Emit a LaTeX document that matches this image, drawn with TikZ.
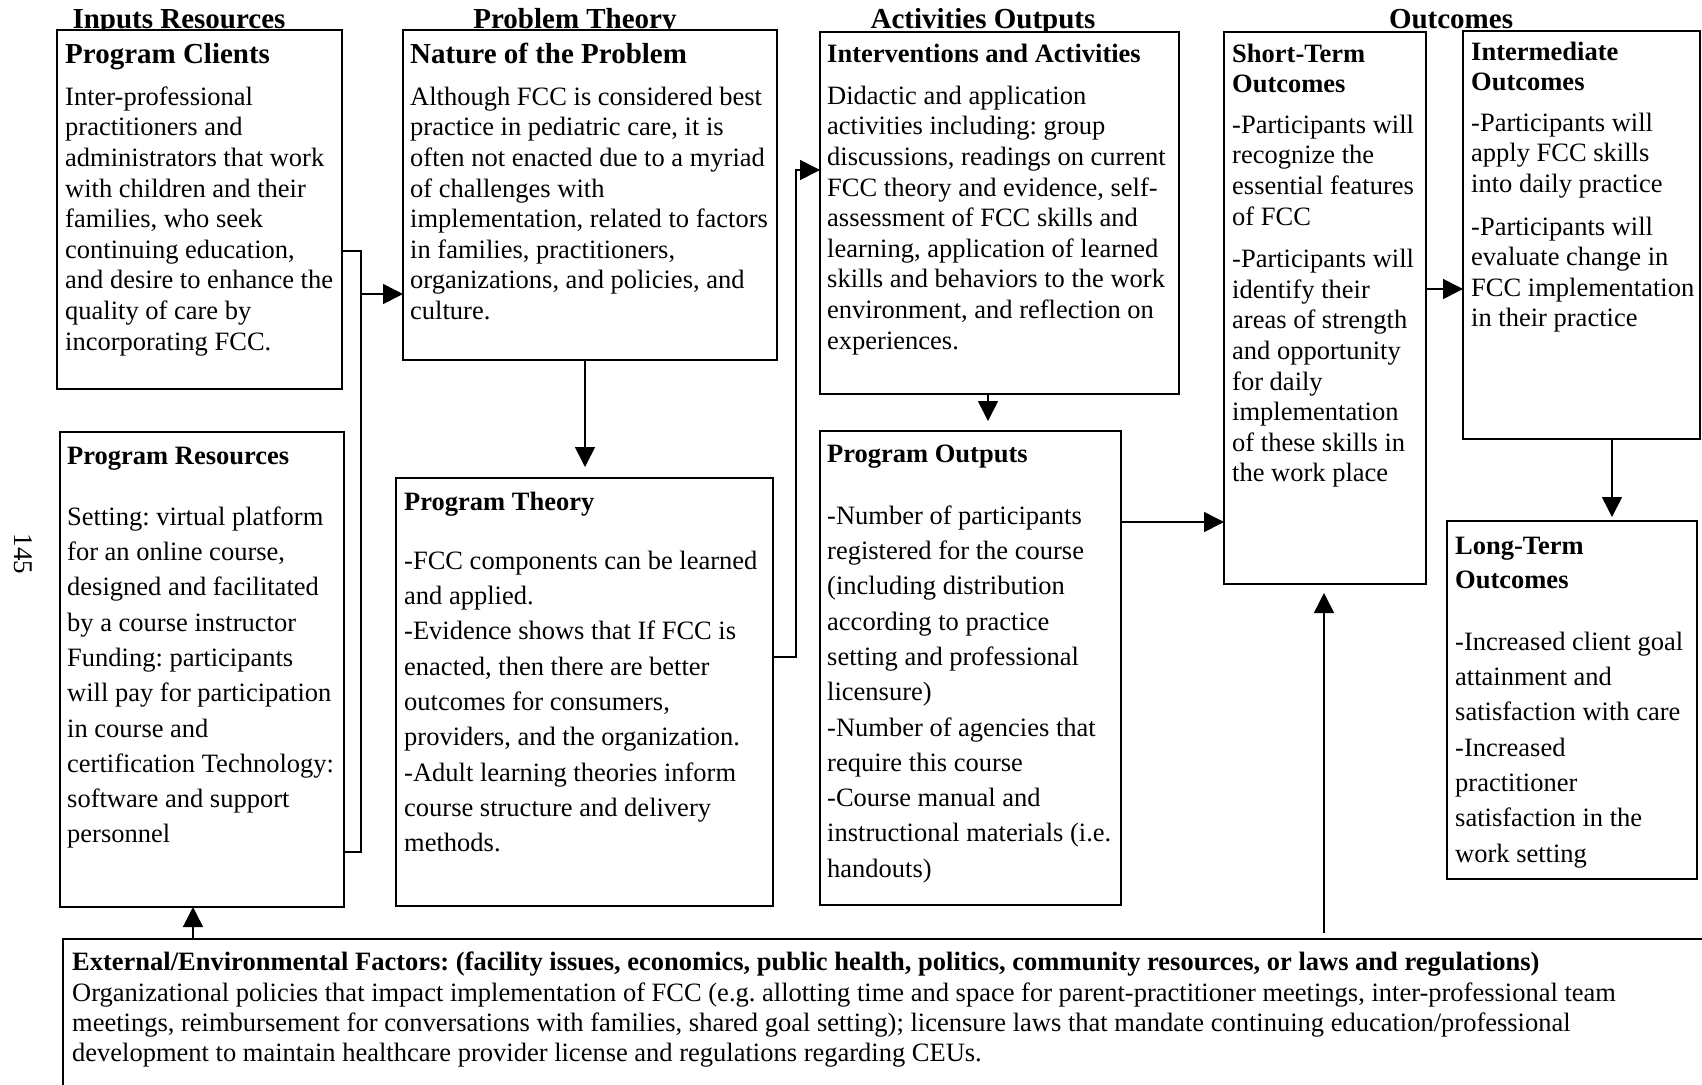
\documentclass[tikz,border=0pt]{standalone}
\usepackage{fontspec}
\setmainfont{Liberation Serif}
\usetikzlibrary{arrows.meta,calc}
\frenchspacing

\begin{document}
\begin{tikzpicture}[x=1pt,y=-1pt,
  box/.style={draw=black, line width=1.8pt, fill=white, anchor=north west, inner sep=0pt, outer sep=0pt},
  colhead/.style={font={\fontsize{29}{34}\selectfont\bfseries}, anchor=base, inner sep=0pt},
  bighead/.style={font={\fontsize{29}{34}\selectfont\bfseries}, anchor=base west, inner sep=0pt},
  headline/.style={font={\fontsize{26.5}{30.6}\selectfont\bfseries}, anchor=base west, inner sep=0pt},
  headblock/.style={font={\fontsize{26.5}{30.6}\selectfont\bfseries}, anchor=north west, inner sep=0pt, align=left},
  tightbody/.style={font={\fontsize{26.5}{30.6}\selectfont}, anchor=north west, inner sep=0pt, align=left},
  loosebody/.style={font={\fontsize{26.5}{35.3}\selectfont}, anchor=north west, inner sep=0pt, align=left},
  extbody/.style={font={\fontsize{26.5}{30.2}\selectfont}, anchor=north west, inner sep=0pt, align=left},
  link/.style={line width=1.6pt},
  arr/.style={line width=1.6pt, -{Triangle[length=20pt,width=20pt]}},
]
\useasboundingbox (0,0) rectangle (1702,1084);
\fill[white] (0,0) rectangle (1702,1084);

% column headings
\node[colhead] (hInputs) at (179,28) {Inputs Resources};
\node[colhead] (hProblem) at (575,28) {Problem Theory};
\node[colhead] (hActivities) at (983,28) {Activities Outputs};
\node[colhead] (hOutcomes) at (1451,28) {Outcomes};

% page number
\node[font={\fontsize{27}{30}\selectfont}, rotate=-90, inner sep=0pt] (pagenum) at (23,554) {145};

% boxes
\node[box, minimum width=285pt, minimum height=359pt] (clients) at (57,30) {};
\node[box, minimum width=374pt, minimum height=330pt] (nature) at (403,30) {};
\node[box, minimum width=359pt, minimum height=362pt] (interv) at (820,32) {};
\node[box, minimum width=202pt, minimum height=552pt] (shortterm) at (1224,32) {};
\node[box, minimum width=237pt, minimum height=408pt] (intermed) at (1463,31) {};
\node[box, minimum width=284pt, minimum height=475pt] (resources) at (60,432) {};
\node[box, minimum width=377pt, minimum height=428pt] (theory) at (396,478) {};
\node[box, minimum width=301pt, minimum height=474pt] (outputs) at (820,431) {};
\node[box, minimum width=250pt, minimum height=358pt] (longterm) at (1447,521) {};
\node[box, minimum width=1660pt, minimum height=200pt] (external) at (63,939) {};

% Program Clients
\node[bighead] (clientsH) at (65,63) {Program Clients};
\node[tightbody] (clientsB) at (65,85) {\rule{0pt}{20pt}Inter-professional\\
practitioners and\\
administrators that work\\
with children and their\\
families, who seek\\
continuing education,\\
and desire to enhance the\\
quality of care by\\
incorporating FCC.};

% Nature of the Problem
\node[bighead] (natureH) at (410,63) {Nature of the Problem};
\node[tightbody] (natureB) at (410,85) {\rule{0pt}{20pt}Although FCC is considered best\\
practice in pediatric care, it is\\
often not enacted due to a myriad\\
of challenges with\\
implementation, related to factors\\
in families, practitioners,\\
organizations, and policies, and\\
culture.};

% Interventions and Activities
\node[headline] (intervH) at (827,62) {Interventions and Activities};
\node[tightbody] (intervB) at (827,84) {\rule{0pt}{20pt}Didactic and application\\
activities including: group\\
discussions, readings on current\\
FCC theory and evidence, self-\\
assessment of FCC skills and\\
learning, application of learned\\
skills and behaviors to the work\\
environment, and reflection on\\
experiences.};

% Short-Term Outcomes
\node[headblock] (shortH) at (1232,42) {\rule{0pt}{20pt}Short-Term\\Outcomes};
\node[tightbody] (shortB) at (1232,113) {\rule{0pt}{20pt}-Participants will\\
recognize the\\
essential features\\
of FCC\\[12pt]
-Participants will\\
identify their\\
areas of strength\\
and opportunity\\
for daily\\
implementation\\
of these skills in\\
the work place};

% Intermediate Outcomes
\node[headblock] (intermedH) at (1471,40) {\rule{0pt}{20pt}Intermediate\\Outcomes};
\node[tightbody] (intermedB) at (1471,111) {\rule{0pt}{20pt}-Participants will\\
apply FCC skills\\
into daily practice\\[12pt]
-Participants will\\
evaluate change in\\
FCC implementation\\
in their practice};

% Program Resources
\node[headline] (resourcesH) at (67,464) {Program Resources};
\node[loosebody] (resourcesB) at (67,505) {\rule{0pt}{20pt}Setting: virtual platform\\
for an online course,\\
designed and facilitated\\
by a course instructor\\
Funding: participants\\
will pay for participation\\
in course and\\
certification Technology:\\
software and support\\
personnel};

% Program Theory
\node[headline] (theoryH) at (404,510) {Program Theory};
\node[loosebody] (theoryB) at (404,549) {\rule{0pt}{20pt}-FCC components can be learned\\
and applied.\\
-Evidence shows that If FCC is\\
enacted, then there are better\\
outcomes for consumers,\\
providers, and the organization.\\
-Adult learning theories inform\\
course structure and delivery\\
methods.};

% Program Outputs
\node[headline] (outputsH) at (827,462) {Program Outputs};
\node[loosebody] (outputsB) at (827,504) {\rule{0pt}{20pt}-Number of participants\\
registered for the course\\
(including distribution\\
according to practice\\
setting and professional\\
licensure)\\
-Number of agencies that\\
require this course\\
-Course manual and\\
instructional materials (i.e.\\
handouts)};

% Long-Term Outcomes
\node[headblock] (longH) at (1455,534) {\rule{0pt}{20pt}Long-Term\\[3.4pt]Outcomes};
\node[loosebody] (longB) at (1455,630) {\rule{0pt}{20pt}-Increased client goal\\
attainment and\\
satisfaction with care\\
-Increased\\
practitioner\\
satisfaction in the\\
work setting};

% External / Environmental Factors
\node[font={\fontsize{26.5}{30.2}\selectfont\bfseries}, anchor=base west, inner sep=0pt] (externalH) at (72,970)
  {External/Environmental Factors: (facility issues, economics, public health, politics, community resources, or laws and regulations)};
\node[extbody] (externalB) at (72,981) {\rule{0pt}{20pt}Organizational policies that impact implementation of FCC (e.g. allotting time and space for parent-practitioner meetings, inter-professional team\\
meetings, reimbursement for conversations with families, shared goal setting); licensure laws that mandate continuing education/professional\\
development to maintain healthcare provider license and regulations regarding CEUs.};

% connectors
\coordinate (busTop) at (361,251);
\coordinate (busBot) at (361,852);
\coordinate (busMid) at (361,294);
\draw[link] (clients.east |- busTop) -- (busTop) -- (busBot) -- (resources.east |- busBot);
\draw[arr] (busMid) -- (nature.west |- busMid);

\coordinate (dropTip) at (585,467);
\draw[arr] (nature.south -| dropTip) -- (dropTip);

\coordinate (riseBot) at (796,657);
\coordinate (riseTop) at (796,170);
\draw[arr] (theory.east |- riseBot) -- (riseBot) -- (riseTop) -- (interv.west |- riseTop);

\coordinate (ioTip) at (988,421);
\draw[arr] (interv.south -| ioTip) -- (ioTip);

\coordinate (osY) at (0,522);
\draw[arr] (outputs.east |- osY) -- (shortterm.west |- osY);

\coordinate (siY) at (0,289);
\draw[arr] (shortterm.east |- siY) -- (intermed.west |- siY);

\coordinate (ilTip) at (1612,517);
\draw[arr] (intermed.south -| ilTip) -- (ilTip);

\coordinate (erX) at (193,0);
\draw[arr] (external.north -| erX) -- (resources.south -| erX);

\coordinate (esBase) at (1324,933);
\coordinate (esTip) at (1324,593);
\draw[arr] (esBase) -- (esTip);

\end{tikzpicture}
\end{document}
